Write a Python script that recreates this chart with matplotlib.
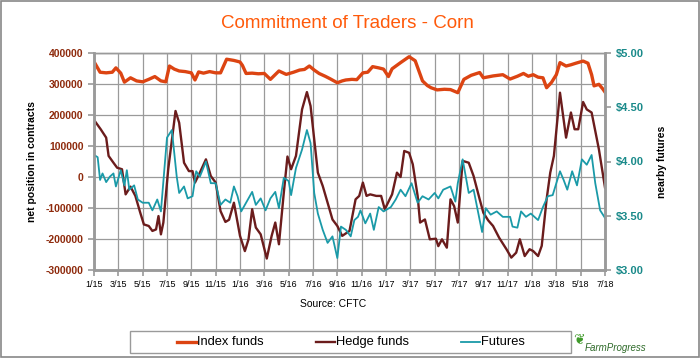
import matplotlib
matplotlib.use("Agg")
import matplotlib.pyplot as plt
from matplotlib.patches import Rectangle
from matplotlib.lines import Line2D

plt.rcParams['font.family'] = ['Liberation Sans', 'DejaVu Sans']

# months since Jan 2015
index_months = [0, 0.5, 1.0, 1.5, 1.8, 2.2, 2.5, 3.0, 3.5, 4.0, 4.5, 5.0, 5.5, 5.9, 6.2, 6.6, 7.0, 7.5,
                8.0, 8.3, 8.6, 9.0, 9.5, 10.0, 10.4, 10.9, 11.5, 12.0, 12.2, 12.5, 13.0, 13.5, 14.0, 14.5,
                15.2, 15.8, 16.4, 16.9, 17.3, 17.7, 18.1, 18.5, 19.0, 19.4, 20.0, 20.4, 20.7, 21.2, 21.6,
                22.1, 22.5, 22.9, 23.4, 23.8, 24.2, 24.5, 25.2, 25.9, 26.4, 27.0, 27.4, 27.7, 28.2, 28.8,
                29.3, 29.9, 30.4, 31.0, 31.7, 32.0, 32.8, 33.6, 34.2, 34.8, 35.3, 35.7, 36.1, 36.5, 36.9,
                37.2, 37.6, 38.0, 38.3, 38.8, 39.2, 39.6, 40.2, 40.6, 40.9, 41.1, 41.5, 41.8, 42.0]
index_funds = [372, 338, 336, 338, 352, 335, 306, 320, 310, 307, 315, 324, 310, 307, 358, 348, 342, 340,
               336, 313, 339, 335, 340, 336, 336, 380, 376, 371, 360, 334, 335, 333, 334, 315,
               342, 331, 338, 345, 347, 358, 345, 334, 325, 317, 304, 310, 313, 315, 314,
               336, 338, 356, 352, 348, 324, 349, 369, 388, 375, 310, 295, 288, 281, 283,
               282, 272, 315, 328, 337, 320, 326, 330, 316, 325, 334, 325, 330, 322, 320,
               288, 305, 330, 369, 358, 362, 367, 374, 367, 330, 294, 299, 285, 274]

hedge_months = [0, 0.55, 1.0, 1.2, 1.6, 1.9, 2.3, 2.6, 3.0, 3.4, 3.8, 4.1, 4.5, 4.8, 5.1, 5.3, 5.5, 5.7,
                6.1, 6.5, 6.7, 7.0, 7.4, 7.8, 8.1, 8.3, 8.7, 9.2, 9.6, 10.0, 10.4, 10.8, 11.1, 11.5, 11.8,
                12.0, 12.4, 12.7, 13.0, 13.3, 13.7, 14.2, 14.6, 14.9, 15.2, 15.6, 15.9, 16.2, 16.6, 17.1,
                17.5, 17.8, 18.4, 18.8, 19.2, 19.6, 20.0, 20.4, 21.0, 21.5, 21.8, 22.1, 22.4, 22.7, 23.2,
                23.6, 23.9, 24.5, 24.9, 25.2, 25.5, 25.9, 26.2, 26.6, 26.8, 27.2, 27.6, 28.1, 28.3, 28.6,
                29.0, 29.3, 29.6, 29.9, 30.3, 30.8, 31.2, 31.7, 32.0, 32.4, 32.8, 33.3, 33.9, 34.3, 34.7,
                35.0, 35.4, 35.8, 36.1, 36.5, 36.8, 37.2, 37.5, 37.8, 38.3, 38.8, 39.2, 39.5, 39.8, 40.2,
                40.5, 40.9, 41.5, 42.0]
hedge_funds = [184, 154, 127, 68, 46, 30, 25, -56, -31, -61, -115, -153, -158, -174, -169, -126, -185, -147,
               25, 150, 213, 175, 46, 19, 19, -18, 14, 57, 3, -18, -110, -145, -138, -83, -147,
               -190, -239, -201, -104, -163, -185, -263, -190, -147, -217, -51, 66, 25, 68, 218,
               274, 229, 14, -29, -83, -137, -158, -190, -174, -72, -61, -18, -61, -56, -61,
               -61, -104, -56, 14, 0, 84, 78, 41, -61, -147, -137, -201, -199, -223, -201,
               -228, -72, -94, -147, 52, 46, 3, -72, -115, -140, -158, -196, -233, -260, -244,
               -201, -255, -233, -239, -255, -222, -72, 14, 68, 272, 127, 208, 154, 154, 242,
               218, 208, 89, -34]

futures_months = [0, 0.3, 0.5, 0.7, 1.0, 1.3, 1.6, 1.8, 2.2, 2.5, 2.7, 2.9, 3.3, 3.6, 4.0, 4.5, 4.8, 5.2,
                  5.5, 5.8, 6.0, 6.4, 6.8, 7.0, 7.4, 7.7, 8.1, 8.4, 8.7, 9.2, 9.6, 10.0, 10.4, 10.8, 11.2,
                  11.5, 11.8, 12.1, 12.5, 13.0, 13.3, 13.7, 14.1, 14.5, 14.9, 15.2, 15.6, 16.0, 16.2, 16.6,
                  17.1, 17.5, 17.8, 18.1, 18.4, 18.8, 19.2, 19.6, 20.0, 20.3, 20.7, 21.1, 21.4, 21.7, 21.9,
                  22.3, 22.7, 23.0, 23.4, 23.8, 24.4, 24.8, 25.2, 25.6, 26.1, 26.6, 27.0, 27.5, 28.0, 28.3,
                  28.7, 29.3, 29.7, 29.9, 30.3, 30.8, 31.2, 31.7, 31.9, 32.2, 32.6, 33.1, 33.6, 34.2, 34.4,
                  34.8, 35.1, 35.5, 35.9, 36.5, 36.9, 37.3, 37.7, 38.3, 38.6, 38.9, 39.3, 39.7, 40.1, 40.5,
                  40.9, 41.2, 41.6, 42.0]
futures = [4.06, 4.04, 3.83, 3.89, 3.81, 3.86, 3.89, 3.77, 3.92, 3.78, 3.92, 3.74, 3.78, 3.65, 3.62, 3.62, 3.55, 3.65,
           3.54, 3.95, 4.22, 4.29, 3.86, 3.71, 3.77, 3.66, 3.68, 3.91, 3.86, 4.00, 3.80, 3.80, 3.60, 3.65, 3.62,
           3.77, 3.68, 3.54, 3.62, 3.72, 3.60, 3.66, 3.55, 3.66, 3.72, 3.57, 3.85, 3.82, 3.69, 3.94,
           4.11, 4.29, 4.17, 3.71, 3.52, 3.37, 3.25, 3.31, 3.11, 3.40, 3.37, 3.31, 3.46, 3.49, 3.55,
           3.43, 3.52, 3.37, 3.58, 3.54, 3.58, 3.65, 3.74, 3.68, 3.80, 3.62, 3.68, 3.65, 3.71, 3.66,
           3.74, 3.77, 3.63, 3.80, 4.02, 3.71, 3.74, 3.46, 3.35, 3.57, 3.51, 3.54, 3.49, 3.49, 3.40,
           3.39, 3.54, 3.49, 3.52, 3.46, 3.58, 3.68, 3.69, 3.91, 3.83, 3.74, 3.91, 3.78, 4.02, 3.97,
           4.06, 3.80, 3.55, 3.48]

tick_labels = ["1/15", "3/15", "5/15", "7/15", "9/15", "11/15", "1/16", "3/16", "5/16", "7/16", "9/16",
               "11/16", "1/17", "3/17", "5/17", "7/17", "9/17", "11/17", "1/18", "3/18", "5/18", "7/18"]
series_names = ["Index funds", "Hedge funds", "Futures"]

c_index = "#dc4412"
c_hedge = "#6b1c1c"
c_fut = "#1a9aa8"
c_left = "#8e2a0c"
c_right = "#1a8a8a"
grid_c = "#9a9a9a"

fig = plt.figure(figsize=(7, 3.58), dpi=100)
ax = fig.add_axes([94 / 700, 1 - 270 / 358, 511 / 700, 217 / 358])
ax2 = ax.twinx()

l1, = ax.plot(index_months, [v * 1000 for v in index_funds], color=c_index, lw=2.4)
l2, = ax.plot(hedge_months, [v * 1000 for v in hedge_funds], color=c_hedge, lw=1.7)
l3, = ax2.plot(futures_months, futures, color=c_fut, lw=1.3)

ax.set_xlim(0, 42)
ax.set_ylim(-300000, 400000)
ax.set_yticks(range(-300000, 400001, 100000))
ax.set_yticklabels([str(v) for v in range(-300000, 400001, 100000)])
ax.set_xticks(range(0, 43, 2))
ax.set_xticklabels(tick_labels)
ax.grid(True, color=grid_c, lw=0.9)
ax.set_axisbelow(True)

ax2.set_ylim(3, 5)
ax2.set_yticks([3, 3.5, 4, 4.5, 5])
ax2.set_yticklabels(["$3.00", "$3.50", "$4.00", "$4.50", "$5.00"])

for a in (ax, ax2):
    for s in a.spines.values():
        s.set_color(grid_c)
        s.set_linewidth(1.0)
    a.spines['left'].set_linewidth(1.8)
    a.spines['right'].set_linewidth(1.8)
    a.spines['bottom'].set_linewidth(1.8)

ax.tick_params(axis='y', colors=grid_c, labelcolor=c_left, labelsize=7.5, length=4, width=1.2)
ax.tick_params(axis='x', colors=grid_c, labelcolor="black", labelsize=6.5, length=4, width=1.2)
ax2.tick_params(axis='y', colors=grid_c, labelcolor=c_right, labelsize=8, length=4, width=1.2)
for t in ax.get_yticklabels():
    t.set_fontweight("bold")
for t in ax2.get_yticklabels():
    t.set_fontweight("bold")

ax.set_ylabel("net position in contracts", fontsize=7.5, fontweight="bold", labelpad=6)
ax2.set_ylabel("nearby futures", fontsize=7.5, fontweight="bold", labelpad=10)

fig.text(0.497, 1 - 24 / 358, "Commitment of Traders - Corn", color="#ff5a0a", fontsize=13.5,
         ha="center", va="center")
fig.text(333 / 700, 1 - 304 / 358, "Source: CFTC", fontsize=7.5, ha="center", va="center")

# legend: box plus hand-placed entries
fig.patches.append(Rectangle((130 / 700, 1 - 353 / 358), 441 / 700, 22 / 358, transform=fig.transFigure,
                             facecolor="white", edgecolor="#9a9a9a", lw=1.0))
leg_y = 1 - 342 / 358
for line, name, x0 in zip([l1, l2, l3], series_names, [177, 316, 461]):
    fig.lines.append(Line2D([x0 / 700, (x0 + 19) / 700], [leg_y, leg_y], transform=fig.transFigure,
                            color=line.get_color(), lw=line.get_linewidth()))
    fig.text((x0 + 20) / 700, leg_y, name, fontsize=9.3, ha="left", va="center")

# FarmProgress mark
fig.text(573 / 700, 1 - 339 / 358, "\u2766", color="#3f9a2a", fontsize=10, ha="left", va="center")
fig.text(585 / 700, 1 - 348 / 358, "FarmProgress", color="#2f6b2a", fontsize=7.0, style="italic",
         ha="left", va="center")

fig.patches.append(Rectangle((0.001, 0.002), 0.997, 0.995, transform=fig.transFigure, fill=False,
                             edgecolor="#888888", lw=1.2))

fig.savefig("out.png", dpi=100)
